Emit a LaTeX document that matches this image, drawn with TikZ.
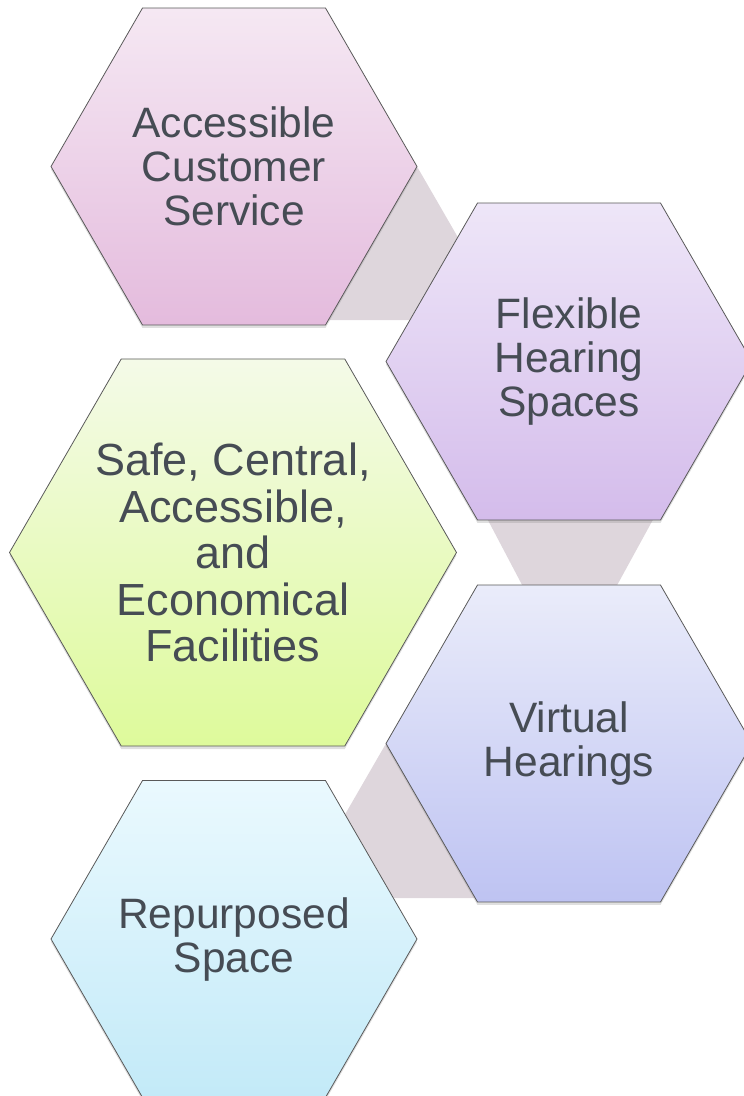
\documentclass[tikz,border=0pt]{standalone}
\usepackage{fontspec}
\setmainfont{Liberation Sans}
\usetikzlibrary{shapes.geometric,shadows,calc,backgrounds}

\definecolor{labelgray}{RGB}{70,76,84}
\definecolor{linkgray}{RGB}{222,214,220}
\definecolor{pinktop}{RGB}{245,232,243}
\definecolor{pinkbot}{RGB}{228,187,221}
\definecolor{lilactop}{RGB}{238,230,248}
\definecolor{lilacbot}{RGB}{212,188,235}
\definecolor{limetop}{RGB}{244,250,232}
\definecolor{limebot}{RGB}{222,250,155}
\definecolor{periwtop}{RGB}{234,236,250}
\definecolor{periwbot}{RGB}{190,195,242}
\definecolor{skytop}{RGB}{234,249,254}
\definecolor{skybot}{RGB}{195,234,248}

\begin{document}
\begin{tikzpicture}[x=1pt,y=-1pt,
    hexbox/.style={regular polygon,regular polygon sides=6,minimum size=366pt,
        inner sep=-40pt,outer sep=0pt,draw=black!65,line width=0.8pt,
        text=labelgray,align=center,font=\fontsize{42.5}{44}\selectfont,
        drop shadow={shadow xshift=0pt,shadow yshift=-3pt,opacity=.25}},
    bighex/.style={hexbox,minimum size=447pt,font=\fontsize{45}{46.5}\selectfont},
    link/.style={fill=linkgray}]
    \path[use as bounding box] (0,0) rectangle (744,1096);

    \node[hexbox,top color=pinktop,bottom color=pinkbot] (service) at (234,166.5) {Accessible\\Customer\\Service};
    \node[hexbox,top color=lilactop,bottom color=lilacbot] (flexible) at (569,361.5) {Flexible\\Hearing\\Spaces};
    \node[bighex,top color=limetop,bottom color=limebot] (facilities) at (233,552.5) {Safe, Central,\\Accessible,\\and\\Economical\\Facilities};
    \node[hexbox,top color=periwtop,bottom color=periwbot] (virtual) at (569,743.5) {Virtual\\Hearings};
    \node[hexbox,top color=skytop,bottom color=skybot] (repurposed) at (234,939) {Repurposed\\Space};

    \coordinate (l1a) at (471,320);
    \coordinate (l1b) at (320,320);
    \coordinate (l2a) at (480,505);
    \coordinate (l2b) at (661,505);
    \coordinate (l2c) at (609,600);
    \coordinate (l2d) at (530,600);
    \coordinate (l3a) at (340,898);
    \coordinate (l3b) at (485,898);

    \begin{scope}[on background layer]
        \fill[link] (service.0) -- ($(service.60)!1.6!(service.0)$) -- (l1a) -- (l1b) -- cycle;
        \fill[link] (l2a) -- (l2b) -- (l2c) -- (l2d) -- cycle;
        \fill[link] (virtual.180) -- ($(virtual.120)!1.5!(virtual.180)$) -- (l3a) -- (l3b) -- cycle;
    \end{scope}
\end{tikzpicture}
\end{document}
